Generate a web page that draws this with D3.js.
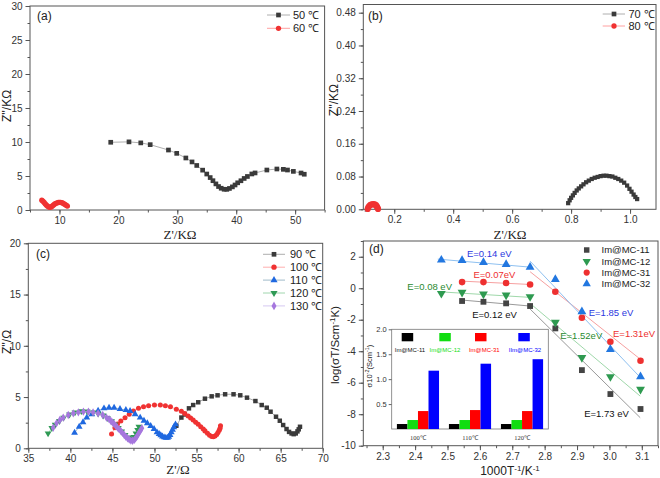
<!DOCTYPE html>
<html><head><meta charset="utf-8">
<script src="https://cdn.jsdelivr.net/npm/d3@7"></script>
<style>body{margin:0;background:#fff} text{font-family:Arial,"Liberation Sans",sans-serif}</style>
</head><body><svg id="c" width="660" height="478"></svg>
<script>
// ---------- DATA ----------
// (a) Z' (kOhm), Z'' (kOhm)
const a50 = [[18.7,9.96],[21.8,10.02],[23.8,9.87],[25.4,9.61],[28.5,8.82],[29.9,8.33],[31.45,7.65],[32.5,7.07],[33.3,6.55],[34.3,5.86],[35.0,5.29],[35.58,4.77],[36.05,4.31],[36.55,3.84],[37.0,3.45],[37.45,3.2],[37.95,3.05],[38.4,3.04],[38.85,3.17],[39.35,3.4],[39.8,3.68],[40.25,4.0],[40.8,4.3],[41.35,4.64],[41.9,4.93],[42.65,5.3],[43.2,5.45],[45.2,5.88],[46.9,6.03],[48.0,5.98],[48.7,5.88],[49.7,5.68],[51.0,5.44],[51.55,5.26]];
const a60 = [[7.0,1.45],[7.2,1.3],[7.4,1.1],[7.6,0.9],[7.8,0.7],[8.0,0.55],[8.2,0.43],[8.4,0.4],[8.6,0.45],[8.8,0.6],[9.0,0.75],[9.2,0.88],[9.4,0.98],[9.6,1.06],[9.8,1.1],[10.0,1.12],[10.2,1.12],[10.4,1.08],[10.6,1.0],[10.8,0.9],[11.0,0.78],[11.2,0.66],[11.35,0.58]];
// (b)
const b70 = [[0.79,0.015],[0.795,0.022],[0.8,0.028],[0.806,0.034],[0.812,0.04],[0.819,0.046],[0.826,0.051],[0.834,0.056],[0.842,0.061],[0.851,0.066],[0.86,0.07],[0.87,0.074],[0.88,0.077],[0.89,0.079],[0.9,0.081],[0.91,0.082],[0.92,0.082],[0.93,0.081],[0.94,0.08],[0.95,0.077],[0.96,0.074],[0.97,0.07],[0.98,0.065],[0.99,0.058],[0.998,0.05],[1.005,0.043],[1.012,0.036],[1.018,0.03],[1.024,0.025]];
const b80 = [[0.11,0.001],[0.112,0.005],[0.115,0.008],[0.119,0.011],[0.124,0.012],[0.129,0.0125],[0.134,0.012],[0.138,0.01],[0.141,0.007],[0.143,0.004],[0.145,0.001]];
// (c) Z' (Ohm), Z'' (Ohm)
const c90 = [[52.6,2.2],[53.2,3.0],[53.6,3.3],[54.1,3.9],[54.6,4.22],[55.2,4.49],[56.0,4.84],[56.8,5.07],[57.5,5.17],[58.4,5.27],[59.4,5.27],[60.2,5.17],[61.0,4.94],[62.0,4.61],[62.75,4.22],[63.35,3.96],[63.8,3.57],[64.45,3.08],[64.9,2.69],[65.3,2.27],[65.7,1.88],[66.0,1.6],[66.3,1.45],[66.55,1.38],[66.8,1.45],[67.0,1.65],[67.15,1.85],[67.3,2.1]];
const c100 = [[44.9,1.4],[45.3,2.0],[45.6,2.37],[46.0,2.66],[46.5,2.99],[47.0,3.32],[47.5,3.64],[48.1,3.9],[48.7,4.06],[49.3,4.16],[50.0,4.22],[50.7,4.22],[51.3,4.16],[51.9,4.05],[52.6,3.8],[53.2,3.62],[53.6,3.4],[54.0,3.15],[54.3,2.95],[54.6,2.76],[54.9,2.55],[55.2,2.34],[55.5,2.1],[55.8,1.88],[56.0,1.7],[56.3,1.46],[56.55,1.28],[56.8,1.15],[57.0,1.12],[57.2,1.2],[57.4,1.35],[57.55,1.55],[57.7,1.75],[57.8,1.95],[57.85,2.2]];
const c110 = [[40.5,1.52],[41.05,2.11],[41.5,2.54],[41.95,2.99],[42.55,3.32],[43.3,3.67],[44.0,3.9],[44.6,3.96],[45.2,3.96],[45.9,3.83],[46.6,3.74],[47.1,3.64],[47.7,3.32],[48.3,2.99],[48.75,2.69],[49.15,2.44],[49.55,2.18],[49.95,1.88],[50.3,1.56],[50.55,1.4],[50.75,1.28],[50.95,1.15],[51.15,1.07],[51.35,1.03],[51.55,1.03],[51.7,1.12],[51.85,1.3],[52.0,1.55],[52.15,1.8],[52.3,2.05],[52.5,2.34]];
const c120 = [[37.35,1.45],[37.8,1.98],[38.2,2.3],[38.7,2.66],[39.2,2.99],[39.9,3.3],[40.55,3.5],[41.3,3.62],[42.0,3.6],[42.7,3.5],[43.3,3.38],[43.9,3.2],[44.4,2.95],[44.9,2.65],[45.3,2.32],[45.7,1.98],[46.1,1.64],[46.5,1.3],[46.9,1.05],[47.25,0.95],[47.55,1.1],[47.8,1.45],[48.0,1.8],[48.15,2.1]];
const c130 = [[37.95,2.0],[38.35,2.44],[38.75,2.76],[39.15,2.99],[39.75,3.25],[40.35,3.41],[40.95,3.51],[41.55,3.57],[42.15,3.57],[42.7,3.51],[43.3,3.41],[43.85,3.25],[44.3,2.99],[44.6,2.84],[44.8,2.69],[45.0,2.53],[45.2,2.37],[45.4,2.2],[45.6,2.01],[45.8,1.85],[46.0,1.69],[46.2,1.5],[46.4,1.3],[46.6,1.13],[46.8,0.98],[47.0,0.85],[47.2,0.75],[47.4,0.74],[47.6,0.82],[47.75,0.96],[47.9,1.14],[48.05,1.35],[48.2,1.56],[48.35,1.76],[48.5,1.96]];
// (d) Arrhenius
const invT = [2.481,2.545,2.611,2.681,2.755,2.833,2.915,3.003,3.096];
const mc11 = [null,-0.81,-0.86,-0.96,-1.13,-2.55,-5.20,-6.72,-7.67];
const mc12 = [-0.33,-0.26,-0.37,-0.43,-0.54,-2.17,-4.41,-5.62,-6.42];
const mc31 = [null,0.39,0.39,0.33,0.24,-0.22,-1.87,-3.40,-4.60];
const mc32 = [1.79,1.77,1.64,1.51,1.34,0.56,-1.49,-3.88,-5.62];
// fitted lines [x1,y1,x2,y2]
const fit11 = [[2.545,-0.75,2.755,-1.13],[2.755,-1.32,3.095,-8.22]];
const fit12 = [[2.47,-0.22,2.755,-0.58],[2.755,-0.96,3.095,-6.85]];
const fit31 = [[2.545,0.45,2.755,0.24],[2.755,1.05,3.095,-4.5]];
const fit32 = [[2.47,1.85,2.755,1.34],[2.755,1.72,3.095,-5.66]];
const dNames = ["Im@MC-11","Im@MC-12","Im@MC-31","Im@MC-32"];
const energyLabels = [["E=0.14 eV",2.629,2.17],["E=0.07eV",2.645,0.88],["E=0.08 eV",2.445,0.10],["E=0.12 eV",2.645,-1.70],["E=1.85 eV",3.005,-1.56],["E=1.31eV",3.076,-2.86],["E=1.52eV",2.913,-3.02],["E=1.73 eV",2.991,-7.94]];
// inset
const insetTemps = ["100℃","110℃","120℃"];
const insetNames = ["Im@MC-11","Im@MC-12","Im@MC-31","IIm@MC-32"];
const ins11 = [0.10,0.10,0.10];
const ins12 = [0.18,0.18,0.18];
const ins31 = [0.36,0.38,0.36];
const ins32 = [1.17,1.31,1.40];

// ---------- DRAW ----------
const svg = d3.select("#c");
svg.append("rect").attr("width",660).attr("height",478).attr("fill","#fff");
const AX="#555", TXT="#333";

function panel(o){
  const x=d3.scaleLinear().domain(o.xdom).range([o.left,o.right]);
  const y=d3.scaleLinear().domain(o.ydom).range([o.bottom,o.top]);
  const g=svg.append("g");
  const clean=s=>{s.select(".domain").remove();s.selectAll("line").attr("stroke",AX);s.selectAll("text").attr("fill",TXT).attr("font-size",10);};
  if(o.xminor) g.append("g").attr("transform",`translate(0,${o.bottom})`).call(d3.axisBottom(x).tickValues(o.xminor).tickSize(2.5).tickFormat("")).call(clean);
  g.append("g").attr("transform",`translate(0,${o.bottom})`).call(d3.axisBottom(x).tickValues(o.xticks).tickSize(4.5).tickPadding(2.5).tickFormat(o.xfmt)).call(clean);
  if(o.yminor) g.append("g").attr("transform",`translate(${o.left},0)`).call(d3.axisLeft(y).tickValues(o.yminor).tickSize(2.5).tickFormat("")).call(clean);
  g.append("g").attr("transform",`translate(${o.left},0)`).call(d3.axisLeft(y).tickValues(o.yticks).tickSize(4.5).tickPadding(3).tickFormat(o.yfmt)).call(clean);
  g.append("rect").attr("x",o.left).attr("y",o.top).attr("width",o.right-o.left).attr("height",o.bottom-o.top).attr("fill","none").attr("stroke",AX).attr("stroke-width",1);
  return {x,y,g};
}
function series(p,data,color,lineColor,sym,size,rot){
  p.g.append("path").datum(data).attr("fill","none").attr("stroke",lineColor).attr("stroke-width",0.8)
    .attr("d",d3.line().x(d=>p.x(d[0])).y(d=>p.y(d[1])));
  p.g.selectAll(null).data(data).enter().append("path")
    .attr("d",d3.symbol().type(sym).size(size))
    .attr("transform",d=>`translate(${p.x(d[0])},${p.y(d[1])})${rot?" rotate(180)":""}`)
    .attr("fill",color);
}
function legendRow(x0,x1,xm,xt,y,color,lineColor,sym,size,rot,lab,fs){
  svg.append("line").attr("x1",x0).attr("x2",x1).attr("y1",y).attr("y2",y).attr("stroke",lineColor).attr("stroke-width",0.8);
  svg.append("path").attr("d",d3.symbol().type(sym).size(size)).attr("transform",`translate(${xm},${y})${rot?" rotate(180)":""}`).attr("fill",color);
  svg.append("text").attr("x",xt).attr("y",y).attr("dy","0.35em").attr("font-size",fs||11).attr("fill","#222").text(lab);
}
function label(x,y,t,opt){
  opt=opt||{};
  const e=svg.append("text").attr("x",x).attr("y",y).attr("font-size",opt.fs||12).attr("fill",opt.fill||"#222")
    .attr("text-anchor",opt.anchor||"start");
  if(t) e.text(t);
  if(opt.rot) e.attr("transform",`rotate(-90,${x},${y})`);
  if(opt.serif) e.style("font-family","'Times New Roman','Liberation Serif',serif");
  return e;
}
const BLK="#3a3a3a", RED="#f03232", BLU="#1f68e0", GRN="#2f9a55", PUR="#a677de";
const pd=(a,b,s)=>d3.range(a,b+1e-9,s);

// (a)
const pa=panel({left:30,right:324.6,top:6,bottom:210,xdom:[5,55],ydom:[0,30],
  xticks:[10,20,30,40,50],xminor:pd(5,55,5),yticks:pd(0,30,5),yminor:pd(0,30,2.5),xfmt:d3.format("d"),yfmt:d3.format("d")});
series(pa,a50,BLK,"#999",d3.symbolSquare,22);
series(pa,a60,RED,"#f88",d3.symbolCircle,22);
legendRow(267,290,278.5,293,15,BLK,"#999",d3.symbolSquare,22,false,"50 ℃");
legendRow(267,290,278.5,293,28.3,RED,"#f88",d3.symbolCircle,22,false,"60 ℃");
label(37,20,"(a)",{fs:12});
label(11,106,"Z''/KΩ",{rot:true,anchor:"middle"});
label(180,239,"Z'/KΩ",{anchor:"middle",serif:true,fs:13});

// (b)
const pb=panel({left:363.3,right:656,top:4.5,bottom:209.3,xdom:[0.095,1.088],ydom:[0,0.5],
  xticks:[0.2,0.4,0.6,0.8,1.0],xminor:pd(0.1,1.0,0.1),yticks:pd(0,0.48,0.08),yminor:pd(0,0.48,0.04),xfmt:d3.format(".1f"),yfmt:d3.format(".2f")});
series(pb,b70,BLK,"#999",d3.symbolSquare,18);
series(pb,b80,RED,"#f88",d3.symbolCircle,30);
legendRow(602.7,625,614,628.5,14,BLK,"#999",d3.symbolSquare,22,false,"70 ℃");
legendRow(602.7,625,614,628.5,26,RED,"#f88",d3.symbolCircle,22,false,"80 ℃");
label(368,20,"(b)",{fs:12});
label(338,100,"Z''/KΩ",{rot:true,anchor:"middle"});
label(510,239,"Z'/KΩ",{anchor:"middle",serif:true,fs:13});

// (c)
const pc=panel({left:28.3,right:322.7,top:243.3,bottom:448.3,xdom:[35,70],ydom:[0,20],
  xticks:pd(35,70,5),xminor:pd(35,70,2.5),yticks:pd(0,20,5),yminor:pd(0,20,2.5),xfmt:d3.format("d"),yfmt:d3.format("d")});
series(pc,c90,BLK,"#999",d3.symbolSquare,20);
series(pc,c100,RED,"#f99",d3.symbolCircle,20);
series(pc,c110,BLU,"#8ab",d3.symbolTriangle,20);
series(pc,c120,GRN,"#8c9",d3.symbolTriangle,20,true);
series(pc,c130,PUR,"#cbe",d3.symbolDiamond,20);
const cLeg=[[c90,BLK,"#999",d3.symbolSquare,false,"90 ℃"],[c100,RED,"#f99",d3.symbolCircle,false,"100 ℃"],[c110,BLU,"#8ab",d3.symbolTriangle,false,"110 ℃"],[c120,GRN,"#8c9",d3.symbolTriangle,true,"120 ℃"],[c130,PUR,"#cbe",d3.symbolDiamond,false,"130 ℃"]];
cLeg.forEach((r,i)=>legendRow(263,285,274,290,254.3+i*12.9,r[1],r[2],r[3],22,r[4],r[5]));
label(36,258,"(c)",{fs:12});
label(11,342,"Z''/Ω",{rot:true,anchor:"middle"});
label(178,474,"Z'/Ω",{anchor:"middle",serif:true,fs:13});

// (d)
const pdn=panel({left:363.3,right:658,top:241,bottom:445.7,xdom:[2.24,3.15],ydom:[-10,3],
  xticks:pd(2.3,3.1,0.1),xminor:pd(2.25,3.15,0.05),yticks:pd(-10,2,2),yminor:pd(-10,3,1),xfmt:d3.format(".1f"),yfmt:d=>String(d)});
const dSets=[
  [mc11,fit11,"#444","#999",d3.symbolSquare,34,false],
  [mc12,fit12,"#2e9a50","#9fd8aa",d3.symbolTriangle,34,true],
  [mc31,fit31,"#ee3030","#f6a0a0",d3.symbolCircle,34,false],
  [mc32,fit32,"#2277e0","#8ec0f0",d3.symbolTriangle,34,false]];
dSets.forEach(s=>{
  s[1].forEach(f=>pdn.g.append("line").attr("x1",pdn.x(f[0])).attr("y1",pdn.y(f[1])).attr("x2",pdn.x(f[2])).attr("y2",pdn.y(f[3])).attr("stroke",s[3]).attr("stroke-width",1));
});
dSets.forEach(s=>{
  const pts=invT.map((t,i)=>[t,s[0][i]]).filter(d=>d[1]!==null);
  pdn.g.selectAll(null).data(pts).enter().append("path").attr("d",d3.symbol().type(s[4]).size(s[5]))
    .attr("transform",d=>`translate(${pdn.x(d[0])},${pdn.y(d[1])})${s[6]?" rotate(180)":""}`).attr("fill",s[2]);
});
dSets.forEach((s,i)=>{
  const yy=250+i*11.3;
  svg.append("path").attr("d",d3.symbol().type(s[4]).size(30)).attr("transform",`translate(586.7,${yy})${s[6]?" rotate(180)":""}`).attr("fill",s[2]);
  svg.append("text").attr("x",601.5).attr("y",yy).attr("dy","0.35em").attr("font-size",9.5).attr("fill","#222").text(dNames[i]);
});
const eCol=["#2b38e0","#ee3030","#2a8a30","#111","#2b38e0","#ee3030","#2a8a30","#111"];
energyLabels.forEach((e,i)=>svg.append("text").attr("x",pdn.x(e[1])).attr("y",pdn.y(e[2])).attr("dy","0.35em").attr("text-anchor","middle").attr("font-size",9.5).attr("fill",eCol[i]).text(e[0]));
label(369,253,"(d)",{fs:12});
{
  const t=label(339,345,"",{rot:true,anchor:"middle",fs:11.5});
  t.append("tspan").text("log(σT/Scm");
  t.append("tspan").attr("baseline-shift","super").attr("font-size",8).text("-1");
  t.append("tspan").text("K)");
  const u=label(510,475,"",{anchor:"middle",fs:12});
  u.append("tspan").text("1000T");
  u.append("tspan").attr("baseline-shift","super").attr("font-size",8).text("-1");
  u.append("tspan").text("/K");
  u.append("tspan").attr("baseline-shift","super").attr("font-size",8).text("-1");
}

// inset
const iL=391.7,iR=548.3,iT=329.3,iB=429;
svg.append("rect").attr("x",iL).attr("y",iT).attr("width",iR-iL).attr("height",iB-iT).attr("fill","#fff").attr("stroke","#777").attr("stroke-width",0.8);
const ix=d3.scaleBand().domain(insetTemps).range([iL,iR]).paddingInner(0.19).paddingOuter(0.1);
const iy=d3.scaleLinear().domain([0,2]).range([iB,iT]);
const sub=d3.scaleBand().domain(d3.range(4)).range([0,ix.bandwidth()]);
const iCols=["#000","#11dd11","#ff0000","#0000ff"];
const iData=[ins11,ins12,ins31,ins32];
iData.forEach((arr,k)=>{
  svg.selectAll(null).data(insetTemps).enter().append("rect")
    .attr("x",t=>ix(t)+sub(k)).attr("width",sub.bandwidth()).attr("y",(t,j)=>iy(arr[j])).attr("height",(t,j)=>iB-iy(arr[j])).attr("fill",iCols[k]);
});
svg.append("g").attr("transform",`translate(${iL},0)`).call(d3.axisLeft(iy).tickValues([0.5,1.0,1.5,2.0]).tickSize(3).tickPadding(2).tickFormat(d3.format(".1f")))
  .call(s=>{s.select(".domain").remove();s.selectAll("line").attr("stroke","#666");s.selectAll("text").attr("font-size",7.5).attr("fill",TXT);});
svg.append("g").attr("transform",`translate(0,${iB})`).call(d3.axisBottom(ix).tickSize(0).tickPadding(6))
  .call(s=>{s.select(".domain").remove();s.selectAll("text").attr("font-size",6.5).attr("fill",TXT).style("font-family","'Times New Roman','Liberation Serif',serif");});
const legX=[401.7,439.3,475,518.3], legTX=[410,445,484.3,525];
insetNames.forEach((n,k)=>{
  svg.append("rect").attr("x",legX[k]).attr("y",333).attr("width",11.5).attr("height",8.3).attr("fill",iCols[k]);
  svg.append("text").attr("x",legTX[k]).attr("y",350).attr("dy","0.35em").attr("text-anchor","middle").attr("font-size",6).attr("fill",k===0?"#111":iCols[k]).text(n);
});
{
  const t=label(372,366,"",{rot:true,anchor:"middle",fs:7.5});
  t.append("tspan").text("σ10");
  t.append("tspan").attr("baseline-shift","super").attr("font-size",5.5).text("-2");
  t.append("tspan").text("(Scm");
  t.append("tspan").attr("baseline-shift","super").attr("font-size",5.5).text("-1");
  t.append("tspan").text(")");
}
</script></body></html>
